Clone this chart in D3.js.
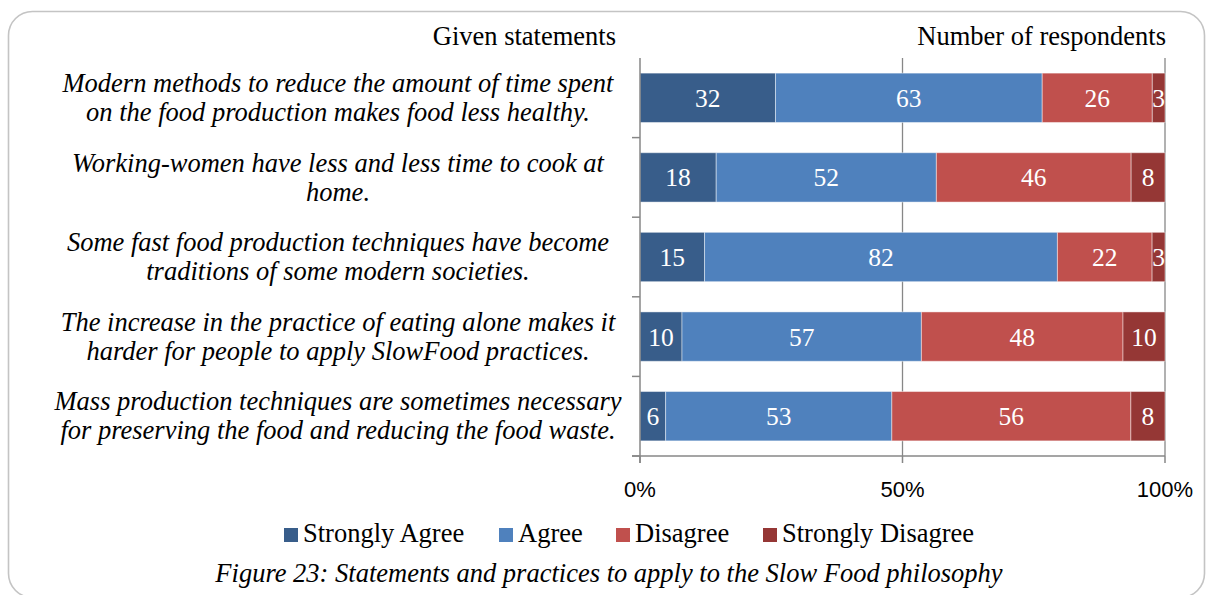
<!DOCTYPE html>
<html>
<head>
<meta charset="utf-8">
<script src="https://cdn.jsdelivr.net/npm/d3@7"></script>
<style>
  html, body { margin: 0; padding: 0; background: #fff; }
  svg { display: block; }
</style>
</head>
<body>
<svg id="chart" width="1206" height="595"></svg>
<script>
// Statements (each drawn on two wrapped lines)
const statements = [
  ["Modern methods to reduce the amount of time spent", "on the food production makes food less healthy."],
  ["Working-women have less and less time to cook at", "home."],
  ["Some fast food production techniques have become", "traditions of some modern societies."],
  ["The increase in the practice of eating alone makes it", "harder for people to apply SlowFood practices."],
  ["Mass production techniques are sometimes necessary", "for preserving the food and reducing the food waste."]
];
const seriesNames = ["Strongly Agree", "Agree", "Disagree", "Strongly Disagree"];
const stronglyAgree    = [32, 18, 15, 10, 6];
const agree            = [63, 52, 82, 57, 53];
const disagree         = [26, 46, 22, 48, 56];
const stronglyDisagree = [3, 8, 3, 10, 8];
const tickValues = [0, 0.5, 1];
const tickLabels = ["0%", "50%", "100%"];
const colors = ["#385d8a", "#4f81bd", "#c0504d", "#953735"];

const svg = d3.select("#chart");
const serif = "'Liberation Serif', 'Times New Roman', serif";

// outer rounded frame
svg.append("rect")
  .attr("x", 8.5).attr("y", 11.5).attr("width", 1196).attr("height", 586)
  .attr("rx", 24).attr("ry", 24)
  .attr("fill", "none").attr("stroke", "#c4c4c4").attr("stroke-width", 1.6);

const plot = { left: 640, right: 1165, top: 58, bottom: 456 };

const x = d3.scaleLinear().domain([0, 1]).range([plot.left, plot.right]);
const y = d3.scaleBand().domain(d3.range(statements.length))
  .range([plot.top, plot.bottom]).paddingInner(0.38).paddingOuter(0.19);
const band = d3.scaleBand().domain(d3.range(statements.length))
  .range([plot.top, plot.bottom]);

const seriesValues = [stronglyAgree, agree, disagree, stronglyDisagree];
const rows = statements.map((s, i) => {
  const vals = seriesValues.map(a => a[i]);
  const total = d3.sum(vals);
  let acc = 0;
  return vals.map((v, k) => {
    const seg = { row: i, k, v, x0: acc / total, x1: (acc + v) / total };
    acc += v;
    return seg;
  });
});

// vertical gridlines
const axisColor = "#878787";
svg.append("g").selectAll("line").data(tickValues.slice(1)).join("line")
  .attr("x1", d => x(d)).attr("x2", d => x(d))
  .attr("y1", plot.top).attr("y2", plot.bottom)
  .attr("stroke", axisColor).attr("stroke-width", 1.3);

// stacked bars
const segs = rows.flat();
svg.append("g").selectAll("rect").data(segs).join("rect")
  .attr("x", d => x(d.x0)).attr("width", d => x(d.x1) - x(d.x0))
  .attr("y", d => y(d.row)).attr("height", y.bandwidth())
  .attr("fill", d => colors[d.k])
  .attr("stroke", "rgba(255,255,255,0.45)").attr("stroke-width", 1);

// value labels
svg.append("g").selectAll("text").data(segs).join("text")
  .attr("x", d => (x(d.x0) + x(d.x1)) / 2)
  .attr("y", d => y(d.row) + y.bandwidth() / 2)
  .attr("dy", "0.35em")
  .attr("text-anchor", "middle")
  .attr("font-family", serif).attr("font-size", 25.5)
  .attr("fill", "#fff")
  .text(d => d.v);

// category axis (left) with ticks at band boundaries
const yAxisG = svg.append("g");
yAxisG.append("line")
  .attr("x1", plot.left).attr("x2", plot.left)
  .attr("y1", plot.top).attr("y2", plot.bottom + 7)
  .attr("stroke", axisColor).attr("stroke-width", 1.5);
const boundaries = d3.range(statements.length + 1).map(i => plot.top + i * band.step());
yAxisG.selectAll("line.tk").data(boundaries.slice(1)).join("line").attr("class", "tk")
  .attr("x1", plot.left - 8).attr("x2", plot.left)
  .attr("y1", d => d).attr("y2", d => d)
  .attr("stroke", axisColor).attr("stroke-width", 1.5);

// value axis (bottom)
const xAxisG = svg.append("g");
xAxisG.append("line")
  .attr("x1", plot.left - 8).attr("x2", plot.right)
  .attr("y1", plot.bottom).attr("y2", plot.bottom)
  .attr("stroke", axisColor).attr("stroke-width", 1.5);
xAxisG.selectAll("line.tk").data(tickValues).join("line").attr("class", "tk")
  .attr("x1", d => x(d)).attr("x2", d => x(d))
  .attr("y1", plot.bottom).attr("y2", plot.bottom + 7)
  .attr("stroke", axisColor).attr("stroke-width", 1.5);
xAxisG.selectAll("text").data(tickValues).join("text")
  .attr("x", d => x(d)).attr("y", 497)
  .attr("text-anchor", "middle")
  .attr("font-family", "'Liberation Sans', Arial, sans-serif").attr("font-size", 22)
  .attr("fill", "#000")
  .text((d, i) => tickLabels[i]);

// statement labels
const catG = svg.append("g");
statements.forEach((lines, i) => {
  const cy = band(i) + band.step() / 2;
  lines.forEach((ln, j) => {
    catG.append("text")
      .attr("x", 338)
      .attr("y", cy + (j === 0 ? -14.5 : 14.5))
      .attr("dy", "0.33em")
      .attr("text-anchor", "middle")
      .attr("font-family", serif).attr("font-style", "italic").attr("font-size", 26.5)
      .attr("fill", "#000")
      .text(ln);
  });
});

// headers
svg.append("text").attr("x", 616).attr("y", 45).attr("text-anchor", "end")
  .attr("font-family", serif).attr("font-size", 26.5).text("Given statements");
svg.append("text").attr("x", 1166).attr("y", 45).attr("text-anchor", "end")
  .attr("font-family", serif).attr("font-size", 26.5).text("Number of respondents");

// legend
const legendX = [284, 499, 616, 763];
const lg = svg.append("g");
seriesNames.forEach((name, k) => {
  lg.append("rect").attr("x", legendX[k]).attr("y", 528).attr("width", 14).attr("height", 14)
    .attr("fill", colors[k]);
  lg.append("text").attr("x", legendX[k] + 19).attr("y", 542)
    .attr("font-family", serif).attr("font-size", 26.5).text(name);
});

// caption
svg.append("text").attr("x", 609).attr("y", 582).attr("text-anchor", "middle")
  .attr("font-family", serif).attr("font-style", "italic").attr("font-size", 26.5)
  .text("Figure 23: Statements and practices to apply to the Slow Food philosophy");
</script>
</body>
</html>
